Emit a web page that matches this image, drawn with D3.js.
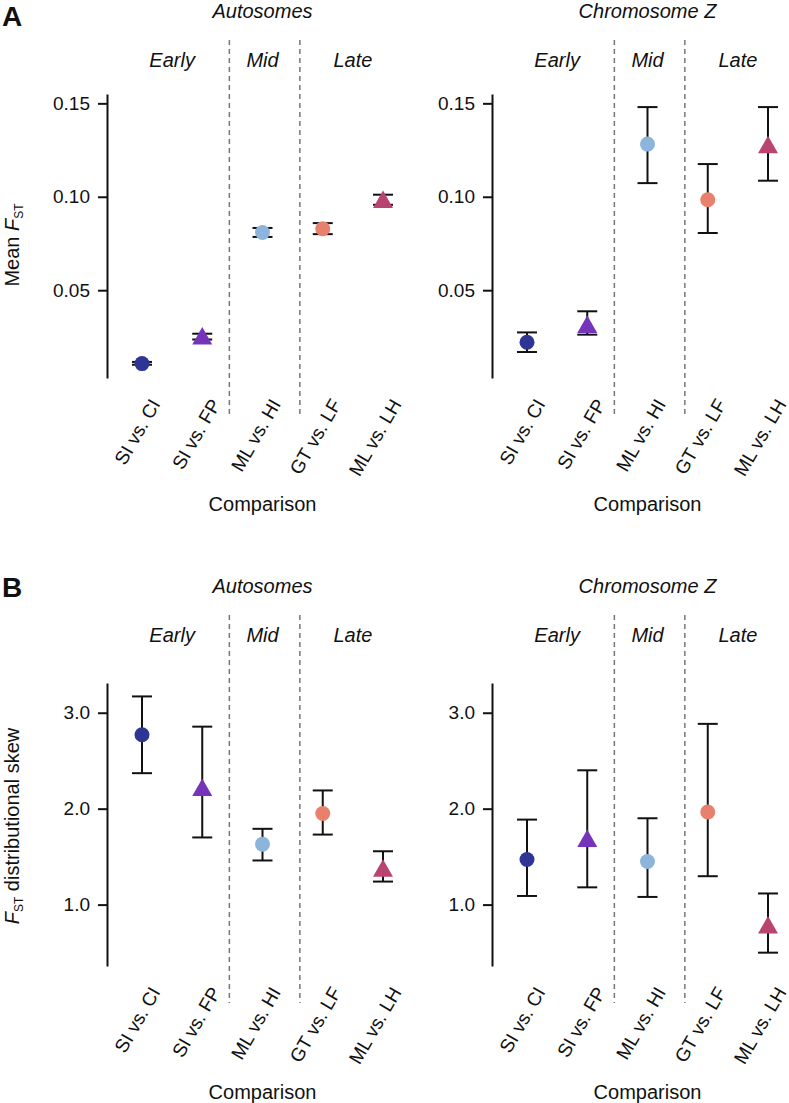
<!DOCTYPE html>
<html>
<head>
<meta charset="utf-8">
<script src="https://cdn.jsdelivr.net/npm/d3@7"></script>
<style>
  body { margin: 0; background: #fff; }
  text { font-family: "Liberation Sans", Arial, Helvetica, sans-serif; fill: #111; }
</style>
</head>
<body>
<svg id="chart" width="789" height="1103"></svg>
<script>
// Data
const comparisons = ["SI vs. CI", "SI vs. FP", "ML vs. HI", "GT vs. LF", "ML vs. LH"];
const shapes = ["circle", "triangle", "circle", "circle", "triangle"];
const colors = ["#2e3594", "#7634ba", "#8db4da", "#e8806e", "#b8446f"];

const periods = ["Early", "Mid", "Late"];
const periodCenters = [0.5, 2, 3.5];   // in comparison index units
const separators = [1.45, 2.62];

// Panel A: mean FST
const fstAutoMean = [0.0107, 0.0255, 0.0809, 0.0829, 0.0985];
const fstAutoLo   = [0.0101, 0.0236, 0.0785, 0.0800, 0.0957];
const fstAutoHi   = [0.0116, 0.0267, 0.0833, 0.0859, 0.1011];

const fstZMean = [0.0221, 0.0316, 0.1282, 0.0984, 0.1278];
const fstZLo   = [0.0169, 0.0262, 0.1073, 0.0806, 0.1086];
const fstZHi   = [0.0274, 0.0387, 0.1480, 0.1175, 0.1480];

const fstTicks = [0.05, 0.10, 0.15];

// Panel B: FST distributional skew
const skewAutoMean = [2.77, 2.22, 1.63, 1.95, 1.38];
const skewAutoLo   = [2.37, 1.70, 1.46, 1.73, 1.24];
const skewAutoHi   = [3.17, 2.855, 1.79, 2.19, 1.556];

const skewZMean = [1.47, 1.69, 1.45, 1.965, 0.787];
const skewZLo   = [1.09, 1.18, 1.08, 1.296, 0.499];
const skewZHi   = [1.886, 2.40, 1.90, 2.884, 1.116];

const skewTicks = [1.0, 2.0, 3.0];

const svg = d3.select('#chart');

// Draw one sub-panel (one y axis with five comparisons)
function drawPanel(opt) {
    const g = svg.append('g');

    const x = d3.scaleLinear()
        .domain([0, comparisons.length - 1])
        .range([opt.axisX + 35, opt.axisX + 35 + 241]);

    const y = d3.scaleLinear()
        .domain(opt.domain)
        .range([opt.bottom, opt.top]);

    // Title
    g.append('text')
        .attr('x', x(2))
        .attr('y', opt.titleY)
        .attr('text-anchor', 'middle')
        .attr('font-size', 20)
        .attr('font-style', 'italic')
        .text(opt.title);

    // Period labels
    g.selectAll('.period')
        .data(periods)
        .enter()
        .append('text')
        .attr('x', (d, i) => x(periodCenters[i]))
        .attr('y', opt.titleY + 49)
        .attr('text-anchor', 'middle')
        .attr('font-size', 20)
        .attr('font-style', 'italic')
        .text(d => d);

    // Dashed separators
    g.selectAll('.sep')
        .data(separators)
        .enter()
        .append('line')
        .attr('x1', d => x(d))
        .attr('x2', d => x(d))
        .attr('y1', opt.titleY + 22)
        .attr('y2', opt.bottom + 37)
        .attr('stroke', '#777')
        .attr('stroke-width', 1.5)
        .attr('stroke-dasharray', '5,4');

    // Y axis
    const axis = g.append('g')
        .attr('transform', `translate(${opt.axisX},0)`)
        .call(d3.axisLeft(y)
            .tickValues(opt.ticks)
            .tickSize(9)
            .tickSizeOuter(0)
            .tickPadding(8)
            .tickFormat(opt.format));
    axis.select('.domain').attr('stroke', '#111').attr('stroke-width', 2);
    axis.selectAll('.tick line').attr('stroke', '#111').attr('stroke-width', 2);
    axis.selectAll('.tick text')
        .attr('font-size', 19)
        .attr('font-family', '"Liberation Sans", Arial, sans-serif')
        .attr('fill', '#111');

    // Category labels
    g.selectAll('.cat')
        .data(comparisons)
        .enter()
        .append('text')
        .attr('transform', (d, i) => `translate(${x(i) + 19},${opt.bottom + 26}) rotate(-60)`)
        .attr('text-anchor', 'end')
        .attr('font-size', 19)
        .text(d => d);

    // X axis title
    g.append('text')
        .attr('x', x(2))
        .attr('y', opt.bottom + 133)
        .attr('text-anchor', 'middle')
        .attr('font-size', 20)
        .text('Comparison');

    // Error bars
    const idx = d3.range(comparisons.length);
    g.selectAll('.err')
        .data(idx)
        .enter()
        .append('line')
        .attr('x1', i => x(i))
        .attr('x2', i => x(i))
        .attr('y1', i => y(opt.lo[i]))
        .attr('y2', i => y(opt.hi[i]))
        .attr('stroke', '#111')
        .attr('stroke-width', 2);

    [opt.lo, opt.hi].forEach(arr => {
        g.selectAll(null)
            .data(idx)
            .enter()
            .append('line')
            .attr('x1', i => x(i) - 10)
            .attr('x2', i => x(i) + 10)
            .attr('y1', i => y(arr[i]))
            .attr('y2', i => y(arr[i]))
            .attr('stroke', '#111')
            .attr('stroke-width', 2);
    });

    // Markers
    idx.forEach(i => {
        const cx = x(i), cy = y(opt.mean[i]);
        if (shapes[i] === 'circle') {
            g.append('circle')
                .attr('cx', cx)
                .attr('cy', cy)
                .attr('r', 7.5)
                .attr('fill', colors[i]);
        } else {
            g.append('path')
                .attr('d', `M${cx},${cy - 9}L${cx + 10},${cy + 8.5}L${cx - 10},${cy + 8.5}Z`)
                .attr('fill', colors[i]);
        }
    });
}

// Rotated y label with F_ST subscript
function yLabel(cx, cy, before, after) {
    const t = svg.append('text')
        .attr('transform', `translate(${cx},${cy}) rotate(-90)`)
        .attr('text-anchor', 'middle')
        .attr('font-size', 20);
    if (before) t.append('tspan').text(before);
    t.append('tspan').attr('font-style', 'italic').text('F');
    t.append('tspan').attr('font-size', 12).attr('dy', 4).text('ST');
    if (after) t.append('tspan').attr('dy', -4).text(after);
}

// Panel letters
svg.append('text').attr('x', 2).attr('y', 26).attr('font-size', 28).attr('font-weight', 'bold').text('A');
svg.append('text').attr('x', 2).attr('y', 597).attr('font-size', 28).attr('font-weight', 'bold').text('B');

const fmtA = d3.format('.2f');
const fmtB = d3.format('.1f');

// A: autosomes and chromosome Z
drawPanel({ axisX: 107, title: 'Autosomes', titleY: 18, domain: [0.003, 0.155], top: 94, bottom: 378,
    ticks: fstTicks, format: fmtA, mean: fstAutoMean, lo: fstAutoLo, hi: fstAutoHi });
drawPanel({ axisX: 492, title: 'Chromosome Z', titleY: 18, domain: [0.003, 0.155], top: 94, bottom: 378,
    ticks: fstTicks, format: fmtA, mean: fstZMean, lo: fstZLo, hi: fstZHi });

// B
drawPanel({ axisX: 107, title: 'Autosomes', titleY: 593, domain: [0.36, 3.31], top: 683, bottom: 966,
    ticks: skewTicks, format: fmtB, mean: skewAutoMean, lo: skewAutoLo, hi: skewAutoHi });
drawPanel({ axisX: 492, title: 'Chromosome Z', titleY: 593, domain: [0.36, 3.31], top: 683, bottom: 966,
    ticks: skewTicks, format: fmtB, mean: skewZMean, lo: skewZLo, hi: skewZHi });

yLabel(19, 245, 'Mean ', null);
yLabel(19, 826, null, ' distributional skew');
</script>
</body>
</html>
